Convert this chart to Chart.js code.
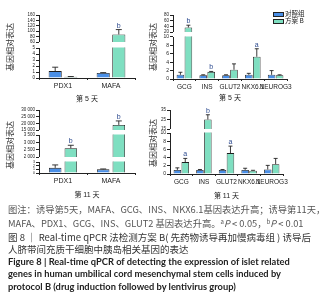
<!DOCTYPE html>
<html>
<head>
<meta charset="utf-8">
<script src="https://cdn.jsdelivr.net/npm/chart.js@4.4.0/dist/chart.umd.min.js"></script>
<style>
body { margin: 0; width: 323px; height: 300px; background: #fff; position: relative; overflow: hidden;
       font-family: 'Liberation Sans', 'Noto Sans CJK SC', sans-serif; }
canvas { position: absolute; }
.ylab { position: absolute; font-family: 'Noto Sans CJK SC'; font-size: 8px; color: #333; white-space: nowrap;
        transform: translate(-50%, -50%) rotate(-90deg); }
.lg { position: absolute; font-family: 'Noto Sans CJK SC'; font-size: 6.5px; color: #222; white-space: nowrap; line-height: 7px; }
.box { position: absolute; width: 9px; height: 3px; border: 1px solid #222; }
.cap { position: absolute; left: 8px; white-space: nowrap; line-height: 12px; }
.c1 { font-family: 'Noto Sans CJK SC'; font-size: 9.3px; color: #555; }
.c2 { font-family: 'Noto Sans CJK SC'; font-size: 9.5px; color: #333; }
.c3 { font-family: 'Lato', 'Open Sans', sans-serif; font-weight: bold; font-size: 9.3px; color: #222; }
sup { font-size: 6px; vertical-align: 3px; line-height: 0; }
</style>
</head>
<body>
<canvas id="p1" width="132" height="97" style="left:12px;top:6px"></canvas>
<canvas id="p2" width="150" height="96" style="left:150px;top:6px"></canvas>
<canvas id="p3" width="132" height="99" style="left:12px;top:100px"></canvas>
<canvas id="p4" width="150" height="100" style="left:150px;top:100px"></canvas>

<div class="ylab" style="left:9px;top:47px">基因相对表达</div>
<div class="ylab" style="left:152px;top:47px">基因相对表达</div>
<div class="ylab" style="left:9px;top:145px">基因相对表达</div>
<div class="ylab" style="left:152px;top:143px">基因相对表达</div>

<div class="box" style="left:273px;top:12px;background:#4a8fe7"></div>
<div class="lg" style="left:285px;top:10px">对照组</div>
<div class="box" style="left:273px;top:19px;background:#7fdfc1"></div>
<div class="lg" style="left:285px;top:17px">方案 B</div>

<div class="cap c1" style="top:203px">图注：诱导第5天，MAFA、GCG、INS、NKX6.1基因表达升高；诱导第11天，</div>
<div class="cap c1" style="top:217px">MAFA、PDX1、GCG、INS、GLUT2 基因表达升高。<sup>a</sup><i>P</i> &lt; 0.05，<sup>b</sup><i>P</i> &lt; 0.01</div>
<div class="cap c2" style="top:231px">图 8 ｜ Real-time qPCR 法检测方案 B( 先药物诱导再加慢病毒组 ) 诱导后</div>
<div class="cap c2" style="top:243px">人脐带间充质干细胞中胰岛相关基因的表达</div>
<div class="cap c3" style="top:256px">Figure 8 | Real-time qPCR of detecting the expression of islet related</div>
<div class="cap c3" style="top:268px">genes in human umbilical cord mesenchymal stem cells induced by</div>
<div class="cap c3" style="top:281px">protocol B (drug induction followed by lentivirus group)</div>

<script>
// genes
const genesA = ['PDX1', 'MAFA'];
const genesB = ['GCG', 'INS', 'GLUT2', 'NKX6.1', 'NEUROG3'];

// day 5, PDX1 / MAFA
const d5CtlA = [1.15, 0.85];
const d5CtlAErr = [0.65, 0.05];
const d5TrtA = [0.2, 88];
const d5TrtAErr = [0.05, 18];
const d5SigA = ['', 'b'];
const d5TicksA = [[60, 80, 100, 120, 140, 160], [0, 1, 2, 3, 4, 5]];

// day 5, other genes
const d5CtlB = [1.0, 0.9, 0.9, 1.0, 1.0];
const d5CtlBErr = [0.6, 0.1, 0.1, 0.35, 1.0];
const d5TrtB = [36, 1.7, 2.2, 5.3, 0.9];
const d5TrtBErr = [8, 0.1, 1.4, 1.9, 0.1];
const d5SigB = ['b', 'b', '', 'a', ''];
const d5TicksB = [[20, 40, 60, 80], [0, 2, 4, 6, 8, 10]];

// day 11, PDX1 / MAFA
const d11CtlA = [1.4, 1.0];
const d11CtlAErr = [0.8, 0.1];
const d11TrtA = [2600, 18800];
const d11TrtAErr = [200, 3000];
const d11SigA = ['b', 'b'];
const d11TicksA = [[15000, 20000, 25000, 30000], [2000, 2500, 3000, 3500], [0, 1, 2, 3]];

// day 11, other genes
const d11CtlB = [1.0, 1.0, 1.0, 1.0, 1.1];
const d11CtlBErr = [0.5, 0.1, 0.1, 0.4, 1.0];
const d11TrtB = [2.9, 25, 5.1, 0.8, 2.4];
const d11TrtBErr = [0.9, 5, 1.7, 0.1, 1.4];
const d11SigB = ['a', 'b', 'a', '', ''];
const d11TicksB = [[15, 25, 35], [0, 2, 4, 6, 8, 10]];

Chart.defaults.font.family = "'Liberation Sans', 'Noto Sans CJK SC', sans-serif";
Chart.defaults.color = '#222';

const BLUE = '#4a8fe7', GREEN = '#7fdfc1', EDGE = '#1e1e1e', INK = '#222', SIG = '#2c4a8f';

function fmt(v) {
    return String(v).replace(/\B(?=(\d{3})+(?!\d))/g, ' ');
}

function makePanel(id, cfg) {
    const n = cfg.ticks.length;
    const segs = [];
    const datasets = [];
    const scales = {
        x: {
            type: 'category',
            offset: true,
            grid: { display: true, drawOnChartArea: false, offset: true, tickLength: 2, color: INK },
            border: { display: true, color: INK, width: 1 },
            ticks: { font: { size: cfg.labelSize }, padding: 2, autoSkip: false, maxRotation: 0, minRotation: 0, color: INK },
            title: { display: true, text: cfg.title, font: { size: 7 }, padding: { top: 0, bottom: 0 }, color: INK },
            afterFit: s => { s.height = cfg.xH; }
        }
    };

    cfg.ticks.forEach((tk, i) => {
        const h = cfg.segH[i];
        const gTop = i > 0 ? cfg.gap / 2 : 0;
        const gBot = i < n - 1 ? cfg.gap / 2 : 0;
        const lo = tk[0], hi = tk[tk.length - 1];
        const per = (hi - lo) / h;
        const yid = 'y' + i;
        const seg = { id: yid, lo: lo, hi: hi, min: lo - gBot * per, max: hi + gTop * per, last: i === n - 1 };
        segs.push(seg);
        scales[yid] = {
            type: 'linear',
            position: 'left',
            stack: 'v',
            stackWeight: h + gTop + gBot,
            weight: n - i,
            min: seg.min,
            max: seg.max,
            afterBuildTicks: s => { s.ticks = tk.map(v => ({ value: v })); },
            afterFit: s => { s.width = cfg.yW; },
            grid: { drawOnChartArea: false, drawTicks: true, tickLength: 3, color: INK },
            border: { display: false },
            ticks: { autoSkip: false, font: { size: cfg.tickSize[i] }, padding: 1, color: INK, callback: v => fmt(v) }
        };
        datasets.push({
            label: '对照组', data: cfg.ctl, errs: cfg.ctlErr, sigs: null, yAxisID: yid, stack: 'c',
            backgroundColor: BLUE, borderColor: EDGE, borderWidth: 0.8,
            categoryPercentage: cfg.cp, barPercentage: cfg.bp
        });
        datasets.push({
            label: '方案 B', data: cfg.trt, errs: cfg.trtErr, sigs: cfg.sig, yAxisID: yid, stack: 't',
            backgroundColor: GREEN, borderColor: EDGE, borderWidth: 0.8,
            categoryPercentage: cfg.cp, barPercentage: cfg.bp
        });
    });

    function segBox(chart, seg) {
        const sc = chart.scales[seg.id];
        const top = sc.getPixelForValue(seg.hi);
        const bot = seg.last ? chart.chartArea.bottom + 1 : sc.getPixelForValue(seg.lo);
        return { top: top, bot: bot };
    }

    // clip every segment to its own tick range so the break shows as a gap
    const broken = {
        id: 'broken',
        beforeDatasetDraw(chart, args) {
            const seg = segs.find(s => s.id === args.meta.yAxisID);
            const b = segBox(chart, seg);
            const a = chart.chartArea;
            const ctx = chart.ctx;
            ctx.save();
            ctx.beginPath();
            ctx.rect(a.left, b.top - 0.5, a.right - a.left + 2, b.bot - b.top + 0.5);
            ctx.clip();
        },
        afterDatasetDraw(chart) {
            chart.ctx.restore();
        },
        afterDatasetsDraw(chart) {
            const ctx = chart.ctx;
            const a = chart.chartArea;
            chart.data.datasets.forEach((ds, j) => {
                const meta = chart.getDatasetMeta(j);
                const seg = segs.find(s => s.id === ds.yAxisID);
                const sc = chart.scales[seg.id];
                const b = segBox(chart, seg);
                ctx.save();
                ctx.beginPath();
                ctx.rect(a.left, b.top - 1, a.right - a.left + 2, b.bot - b.top + 1);
                ctx.clip();
                ctx.strokeStyle = INK;
                ctx.lineWidth = 0.9;
                ds.data.forEach((v, k) => {
                    const el = meta.data[k];
                    const y0 = sc.getPixelForValue(v);
                    const y1 = sc.getPixelForValue(v + ds.errs[k]);
                    ctx.beginPath();
                    ctx.moveTo(el.x, y0);
                    ctx.lineTo(el.x, y1);
                    ctx.moveTo(el.x - cfg.capW, y1);
                    ctx.lineTo(el.x + cfg.capW, y1);
                    ctx.stroke();
                });
                ctx.restore();
                if (ds.sigs) {
                    ctx.save();
                    ctx.fillStyle = SIG;
                    ctx.font = "7px 'Liberation Sans'";
                    ctx.textAlign = 'center';
                    ctx.textBaseline = 'bottom';
                    ds.data.forEach((v, k) => {
                        const t = v + ds.errs[k];
                        if (ds.sigs[k] && t >= seg.min && t <= seg.max) {
                            ctx.fillText(ds.sigs[k], meta.data[k].x, sc.getPixelForValue(t) - 0.5);
                        }
                    });
                    ctx.restore();
                }
            });
            // y axis line, one piece per segment
            ctx.save();
            ctx.strokeStyle = INK;
            ctx.lineWidth = 1;
            segs.forEach(seg => {
                const b = segBox(chart, seg);
                ctx.beginPath();
                ctx.moveTo(Math.round(a.left) + 0.5, b.top);
                ctx.lineTo(Math.round(a.left) + 0.5, seg.last ? a.bottom : b.bot);
                ctx.stroke();
            });
            ctx.restore();
        }
    };

    new Chart(document.getElementById(id), {
        type: 'bar',
        data: { labels: cfg.labels, datasets: datasets },
        options: {
            responsive: false,
            animation: false,
            devicePixelRatio: 1,
            layout: { padding: { left: 0, top: cfg.padTop, right: cfg.padRight, bottom: 0 } },
            plugins: { legend: { display: false }, tooltip: { enabled: false } },
            scales: scales
        },
        plugins: [broken]
    });
}

makePanel('p1', {
    labels: genesA, ctl: d5CtlA, ctlErr: d5CtlAErr, trt: d5TrtA, trtErr: d5TrtAErr, sig: d5SigA,
    ticks: d5TicksA, segH: [27, 30], gap: 6, tickSize: [4.5, 4.5],
    yW: 27, padTop: 9, padRight: 9, xH: 25, title: '第 5 天', labelSize: 7,
    cp: 0.65, bp: 0.84, capW: 3
});

makePanel('p2', {
    labels: genesB, ctl: d5CtlB, ctlErr: d5CtlBErr, trt: d5TrtB, trtErr: d5TrtBErr, sig: d5SigB,
    ticks: d5TicksB, segH: [17, 42], gap: 5, tickSize: [4.5, 5],
    yW: 23, padTop: 9, padRight: 13, xH: 23, title: '第 5 天', labelSize: 6.5,
    cp: 0.7, bp: 0.95, capW: 2
});

makePanel('p3', {
    labels: genesA, ctl: d11CtlA, ctlErr: d11CtlAErr, trt: d11TrtA, trtErr: d11TrtAErr, sig: d11SigA,
    ticks: d11TicksA, segH: [20, 22, 11], gap: 5, tickSize: [4.5, 4.5, 3.5],
    yW: 27, padTop: 10, padRight: 9, xH: 26, title: '第 11 天', labelSize: 7,
    cp: 0.65, bp: 0.8, capW: 3
});

makePanel('p4', {
    labels: genesB, ctl: d11CtlB, ctlErr: d11CtlBErr, trt: d11TrtB, trtErr: d11TrtBErr, sig: d11SigB,
    ticks: d11TicksB, segH: [19, 41], gap: 4, tickSize: [4.5, 5],
    yW: 20, padTop: 10, padRight: 17, xH: 26, title: '第 11 天', labelSize: 6.5,
    cp: 0.7, bp: 0.95, capW: 2
});
</script>
</body>
</html>
